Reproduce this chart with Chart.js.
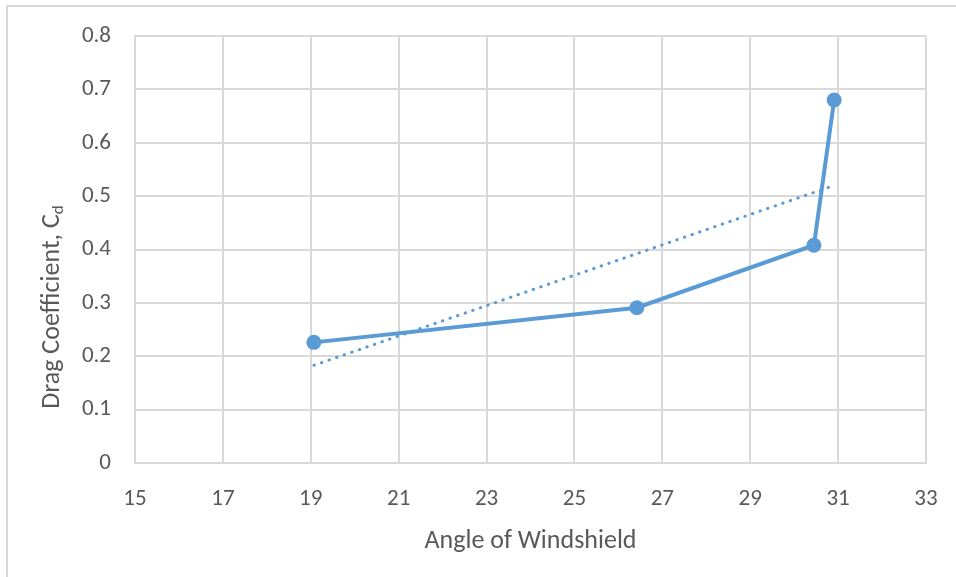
<!DOCTYPE html>
<html>
<head>
<meta charset="utf-8">
<script src="https://cdn.jsdelivr.net/npm/chart.js@4/dist/chart.umd.min.js"></script>
<style>
  html, body { margin: 0; padding: 0; background: #ffffff; }
  #wrap { width: 956px; height: 577px; position: relative; }
  canvas { display: block; }
</style>
</head>
<body>
<div id="wrap"><canvas id="c" width="956" height="577"></canvas></div>
<script>
// ---- data ----
const angles = [19.07, 26.42, 30.45, 30.91];
const dragCoefficients = [0.226, 0.291, 0.408, 0.680];
// linear trendline end points
const trendAngles = [19.07, 30.91];
const trendValues = [0.183, 0.520];
const xTicks = [15, 17, 19, 21, 23, 25, 27, 29, 31, 33];
const yTicks = [0, 0.1, 0.2, 0.3, 0.4, 0.5, 0.6, 0.7, 0.8];
const xTitle = 'Angle of Windshield';
const yTitleMain = 'Drag Coefficient, C';
const yTitleSub = 'd';

const FONT = 'Carlito, Calibri, Lato, "Open Sans", sans-serif';
const TEXT = '#595959';
const GRID = '#d9d9d9';
const BLUE = '#5b9bd5';

const series = angles.map((a, i) => ({ x: a, y: dragCoefficients[i] }));
const trend = trendAngles.map((a, i) => ({ x: a, y: trendValues[i] }));

const titlesPlugin = {
  id: 'titles',
  afterDraw(chart) {
    const ctx = chart.ctx;
    const a = chart.chartArea;
    ctx.save();
    // frame (left + top edges visible)
    ctx.strokeStyle = GRID;
    ctx.lineWidth = 2;
    ctx.beginPath();
    ctx.moveTo(7, 600);
    ctx.lineTo(7, 6);
    ctx.lineTo(1000, 6);
    ctx.stroke();
    // x title
    ctx.fillStyle = TEXT;
    ctx.font = '26px ' + FONT;
    ctx.textAlign = 'center';
    ctx.textBaseline = 'middle';
    ctx.fillText(xTitle, (a.left + a.right) / 2, 541);
    // y title with subscript
    const mainFont = '26px ' + FONT;
    const subFont = '17px ' + FONT;
    ctx.font = mainFont;
    const w1 = ctx.measureText(yTitleMain).width;
    ctx.font = subFont;
    const w2 = ctx.measureText(yTitleSub).width;
    const total = w1 + w2;
    ctx.translate(50, 307);
    ctx.rotate(-Math.PI / 2);
    ctx.textAlign = 'left';
    ctx.textBaseline = 'alphabetic';
    ctx.font = mainFont;
    ctx.fillText(yTitleMain, -total / 2, 9);
    ctx.font = subFont;
    ctx.fillText(yTitleSub, -total / 2 + w1, 13);
    ctx.restore();
  }
};

new Chart(document.getElementById('c'), {
  type: 'scatter',
  data: {
    datasets: [
      {
        label: 'Cd',
        data: series,
        showLine: true,
        borderColor: BLUE,
        backgroundColor: BLUE,
        borderWidth: 4,
        pointRadius: 7.5,
        pointHoverRadius: 7.5,
        pointBorderWidth: 0,
        order: 2
      },
      {
        label: 'Linear',
        data: trend,
        showLine: true,
        borderColor: BLUE,
        borderWidth: 3,
        borderDash: [0.5, 7.5],
        borderCapStyle: 'round',
        pointRadius: 0,
        order: 1
      }
    ]
  },
  options: {
    responsive: false,
    animation: false,
    devicePixelRatio: 1,
    layout: { padding: { top: 36, right: 30, bottom: 0, left: 0 } },
    plugins: {
      legend: { display: false },
      tooltip: { enabled: false }
    },
    scales: {
      x: {
        type: 'linear',
        min: 15, max: 33,
        afterBuildTicks(s) { s.ticks = xTicks.map(v => ({ value: v })); },
        afterFit(s) { s.height = 577 - 463; s.paddingRight = 0; s.paddingLeft = 0; },
        grid: { color: GRID, lineWidth: 2, drawTicks: false },
        border: { color: GRID, width: 2 },
        ticks: { color: TEXT, font: { family: FONT, size: 23 }, padding: 22, maxRotation: 0 }
      },
      y: {
        type: 'linear',
        min: 0, max: 0.8,
        afterBuildTicks(s) { s.ticks = yTicks.map(v => ({ value: v })); },
        afterFit(s) { s.width = 135; s.paddingTop = 0; s.paddingBottom = 0; },
        grid: { color: GRID, lineWidth: 2, drawTicks: false },
        border: { color: GRID, width: 2 },
        ticks: {
          color: TEXT, font: { family: FONT, size: 23 }, padding: 24,
          callback: v => (v === 0 ? '0' : v.toFixed(1))
        }
      }
    }
  },
  plugins: [titlesPlugin]
});
</script>
</body>
</html>
